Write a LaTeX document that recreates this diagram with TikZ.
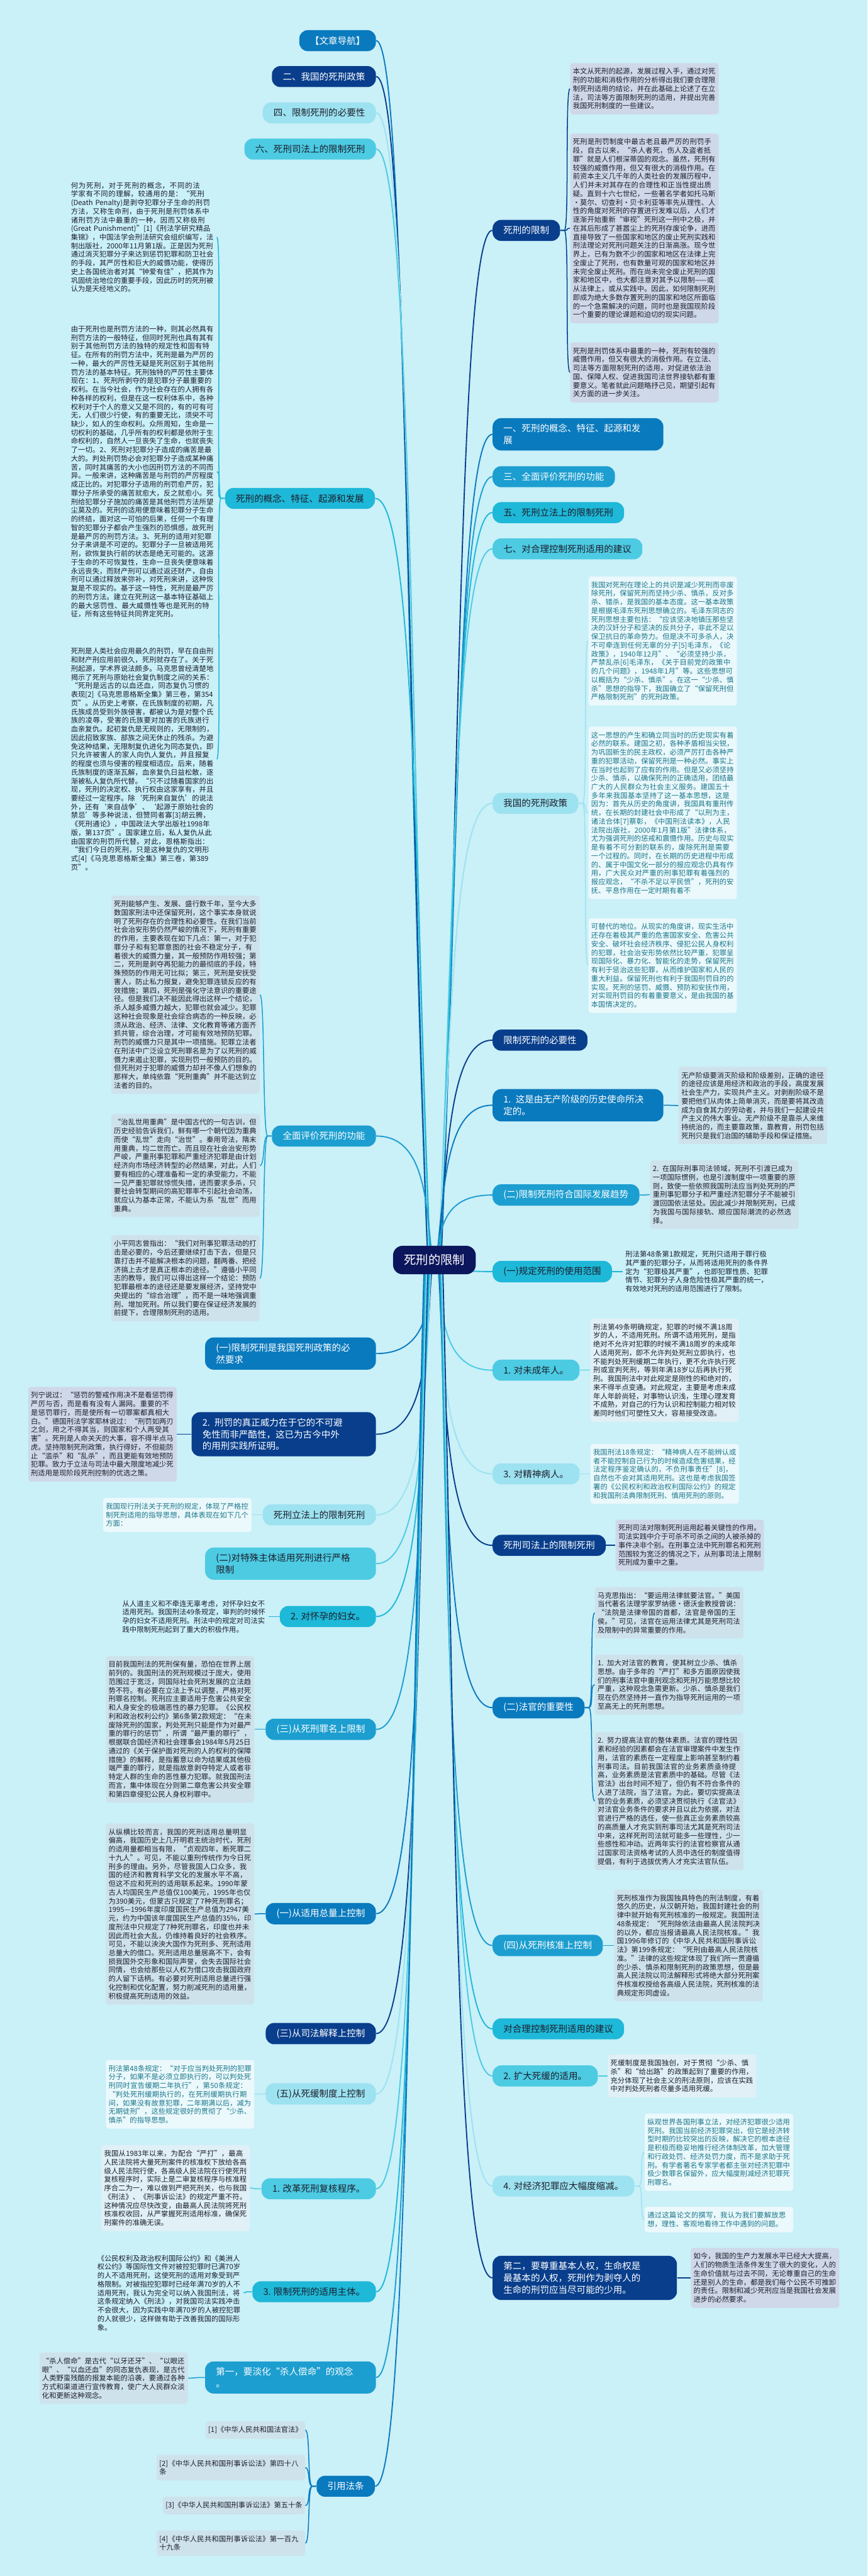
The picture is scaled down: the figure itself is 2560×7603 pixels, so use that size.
\documentclass[tikz,border=0pt]{standalone}
\usepackage{fontspec}
\setmainfont{Noto Sans CJK SC}
\XeTeXlinebreaklocale "zh"
\XeTeXlinebreakskip=0pt plus 0.5pt
\usetikzlibrary{calc}
\pgfdeclarelayer{background}
\pgfsetlayers{background,main}

\definecolor{bgc}{RGB}{202,240,248}
\definecolor{rootc}{RGB}{12,22,92}
\definecolor{darkb}{RGB}{8,62,140}
\definecolor{midb}{RGB}{10,122,190}
\definecolor{skyb}{RGB}{28,158,208}
\definecolor{cyanb}{RGB}{30,184,216}
\definecolor{lightb}{RGB}{76,203,227}
\definecolor{paleb}{RGB}{157,226,240}
\definecolor{boxgrey}{RGB}{207,216,232}
\definecolor{boxblue}{RGB}{206,226,236}
\definecolor{boxlite}{RGB}{224,240,246}
\definecolor{boxpale}{RGB}{235,249,252}
\definecolor{inkc}{RGB}{28,30,44}
\definecolor{tealc}{RGB}{26,118,138}

\newcommand\notefont{\fontsize{5.97pt}{7.26pt}\selectfont}
\newcommand\headfont{\fontsize{7.68pt}{9.96pt}\selectfont}
\newcommand\rootfont{\fontsize{10.2pt}{12.2pt}\selectfont}

\tikzset{
  head/.style={rounded corners=2.5mm, minimum height=6.2mm, inner xsep=3.2mm, inner ysep=1.75mm, font=\headfont, align=left},
  hdark/.style={head, fill=darkb, text=white},
  hmid/.style={head, fill=midb, text=white},
  hsky/.style={head, fill=skyb, text=white},
  hcyan/.style={head, fill=cyanb, text=inkc},
  hlight/.style={head, fill=lightb, text=inkc},
  hpale/.style={head, fill=paleb, text=inkc},
  twoline/.style={text width=44mm},
  threeline/.style={text width=48mm},
  note/.style={text width=42.2mm, inner xsep=0.8mm, inner ysep=1.5mm, rounded corners=0.8mm, font=\notefont, align=left},
  notegrey/.style={note, fill=boxgrey, text=inkc},
  noteblue/.style={note, fill=boxblue, text=inkc},
  notelite/.style={note, fill=boxlite, text=inkc},
  notepale/.style={note, fill=boxpale, text=tealc},
  noteplain/.style={note, text=inkc},
  citebox/.style={inner xsep=0.8mm, inner ysep=1.5mm, rounded corners=0.8mm, font=\notefont, fill=boxblue, text=inkc},
  trunk/.style={line width=1pt},
  twig/.style={line width=0.8pt},
}

\begin{document}
\begin{tikzpicture}[x=0.1mm, y=-0.1mm]
    \useasboundingbox (0,0) rectangle (2560,7603);

    % centre
    \node[rounded corners=2.8mm, fill=rootc, text=white, font=\rootfont, minimum width=24.4mm, minimum height=8.4mm] (root) at (1282,3719) {死刑的限制};

    % right side topics
    \node[hdark, anchor=west] (secR) at (1453,680) {死刑的限制};
    \node[hmid, twoline, anchor=west] (sec1) at (1453,1282) {一、死刑的概念、特征、起源和发\\展};
    \node[hsky, anchor=west] (sec3) at (1453,1407) {三、全面评价死刑的功能};
    \node[hcyan, anchor=west] (sec5) at (1453,1513) {五、死刑立法上的限制死刑};
    \node[hlight, anchor=west] (sec7) at (1453,1620) {七、对合理控制死刑适用的建议};
    \node[hpale, anchor=west] (policy) at (1453,2371) {我国的死刑政策};
    \node[hdark, anchor=west] (necess) at (1453,3070) {限制死刑的必要性};
    \node[hmid, twoline, anchor=west] (mission) at (1453,3262) {1. 这是由无产阶级的历史使命所决\\定的。};
    \node[hsky, anchor=west] (intl) at (1453,3527) {(二)限制死刑符合国际发展趋势};
    \node[hcyan, anchor=west] (scope) at (1453,3753) {(一)规定死刑的使用范围};
    \node[hlight, anchor=west] (minors) at (1453,4044) {1. 对未成年人。};
    \node[hpale, anchor=west] (insane) at (1453,4350) {3. 对精神病人。};
    \node[hdark, anchor=west] (judic) at (1453,4561) {死刑司法上的限制死刑};
    \node[hmid, anchor=west] (judges) at (1453,5040) {(二)法官的重要性};
    \node[hsky, anchor=west] (review) at (1453,5742) {(四)从死刑核准上控制};
    \node[hcyan, anchor=west] (suggest) at (1453,5988) {对合理控制死刑适用的建议};
    \node[hlight, anchor=west] (suspend) at (1453,6127) {2. 扩大死缓的适用。};
    \node[hpale, anchor=west] (econ) at (1453,6452) {4. 对经济犯罪应大幅度缩减。};
    \node[hdark, threeline, anchor=west] (rights) at (1453,6723) {第二，要尊重基本人权，生命权是\\最基本的人权，死刑作为剥夺人的\\生命的刑罚应当尽可能的少用。};

    % left side topics
    \node[hmid, anchor=east] (nav) at (1110,120) {【文章导航】};
    \node[hdark, anchor=east] (sec2) at (1110,226) {二、我国的死刑政策};
    \node[hpale, anchor=east] (sec4) at (1110,333) {四、限制死刑的必要性};
    \node[hlight, anchor=east] (sec6) at (1110,440) {六、死刑司法上的限制死刑};
    \node[hcyan, anchor=east] (concept) at (1107,1471) {死刑的概念、特征、起源和发展};
    \node[hsky, anchor=east] (evaluate) at (1110,3353) {全面评价死刑的功能};
    \node[hmid, twoline, anchor=east] (polreq) at (1110,3995) {(一)限制死刑是我国死刑政策的必\\然要求};
    \node[hdark, threeline, anchor=east] (certainty) at (1110,4233) {2. 刑罚的真正威力在于它的不可避\\免性而非严酷性，这已为古今中外\\的用刑实践所证明。};
    \node[hpale, anchor=east] (legis) at (1110,4471) {死刑立法上的限制死刑};
    \node[hlight, twoline, anchor=east] (special) at (1110,4615) {(二)对特殊主体适用死刑进行严格\\限制};
    \node[hcyan, anchor=east] (pregnant) at (1110,4771) {2. 对怀孕的妇女。};
    \node[hsky, anchor=east] (crimes) at (1110,5104) {(三)从死刑罪名上限制};
    \node[hmid, anchor=east] (total) at (1110,5648) {(一)从适用总量上控制};
    \node[hdark, anchor=east] (interp) at (1110,6002) {(三)从司法解释上控制};
    \node[hpale, anchor=east] (suspsys) at (1110,6180) {(五)从死缓制度上控制};
    \node[hlight, anchor=east] (reform) at (1110,6460) {1. 改革死刑复核程序。};
    \node[hcyan, anchor=east] (elderly) at (1110,6764) {3. 限制死刑的适用主体。};
    \node[hsky, twoline, anchor=east] (notion) at (1110,7017) {第一，要淡化“杀人偿命”的观念\\。};
    \node[hmid, anchor=east] (citelaw) at (1107,7338) {引用法条};

    % notes on the right
    \node[notegrey, anchor=west] (introA) at (1682,262) {本文从死刑的起源，发展过程入手，通过对死刑的功能和消极作用的分析得出我们要合理限制死刑适用的结论，并在此基础上论述了在立法，司法等方面限制死刑的适用，并提出完善我国死刑制度的一些建议。};
    \node[notegrey, anchor=west] (introB) at (1682,674) {死刑是刑罚制度中最古老且最严厉的刑罚手段，自古以来，“杀人者死，伤人及盗者抵罪”就是人们根深蒂固的观念。虽然，死刑有较强的威慑作用，但又有很大的消极作用。在前资本主义几千年的人类社会的发展历程中，人们并未对其存在的合理性和正当性提出质疑。直到十六七世纪，一些著名学者如托马斯·莫尔、切查利·贝卡利亚等率先从理性、人性的角度对死刑的存置进行发难以后，人们才逐渐开始重新“审视”死刑这一刑中之极，并在其后形成了甚嚣尘上的死刑存废论争，进而直接导致了一些国家和地区的废止死刑实践和刑法理论对死刑问题关注的日渐高涨。现今世界上，已有为数不少的国家和地区在法律上完全废止了死刑，也有数量可观的国家和地区并未完全废止死刑。而在尚未完全废止死刑的国家和地区中，也大都注意对其予以限制——或从法律上，或从实践中。因此，如何限制死刑即成为绝大多数存置死刑的国家和地区所面临的一个急需解决的问题，同时也是我国现阶段一个重要的理论课题和迫切的现实问题。};
    \node[notegrey, anchor=west] (introC) at (1682,1099) {死刑是刑罚体系中最重的一种，死刑有较强的威慑作用，但又有很大的消极作用。在立法、司法等方面限制死刑的适用，对促进依法治国、保障人权、促进我国司法世界接轨都有重要意义。笔者就此问题略抒己见，期望引起有关方面的进一步关注。};
    \node[notepale, anchor=west] (polA) at (1736,1892) {我国对死刑在理论上的共识是减少死刑而非废除死刑，保留死刑而坚持少杀、慎杀，反对多杀、错杀，是我国的基本态度。这一基本政策是根据毛泽东死刑思想确立的。毛泽东同志的死刑思想主要包括：“应该坚决地镇压那些坚决的汉奸分子和坚决的反共分子，非此不足以保卫抗日的革命势力。但是决不可多杀人，决不可牵连到任何无辜的分子[5]毛泽东，《论政策》，1940年12月”、“必须坚持少杀，严禁乱杀[6]毛泽东，《关于目前党的政策中的几个问题》，1948年1月”等。这些思想可以概括为“少杀、慎杀”。在这一“少杀、慎杀”思想的指导下，我国确立了“保留死刑但严格限制死刑”的死刑政策。};
    \node[notepale, anchor=west] (polB) at (1736,2399) {这一思想的产生和确立同当时的历史现实有着必然的联系。建国之初，各种矛盾相当尖锐，为巩固新生的民主政权，必须严厉打击各种严重的犯罪活动，保留死刑是一种必然。事实上在当时也起到了应有的作用。但是又必须坚持少杀、慎杀，以确保死刑的正确适用，团结最广大的人民群众为社会主义服务。建国五十多年来我国基本坚持了这一基本思想，这是因为：首先从历史的角度讲，我国具有重刑传统，在长期的封建社会中形成了“以刑为主，诸法合体[7]蔡彰，《中国刑法读本》，人民法院出版社，2000年1月第1版”法律体系，尤为强调死刑的惩戒和震慑作用。历史与现实是有着不可分割的联系的，废除死刑是需要一个过程的。同时，在长期的历史进程中形成的、属于中国文化一部分的报应观念仍具有作用，广大民众对严重的刑事犯罪有着强烈的报应观念，“不杀不足以平民愤”，死刑的安抚、平息作用在一定时期有着不};
    \node[notepale, anchor=west] (polC) at (1736,2850) {可替代的地位。从现实的角度讲，现实生活中还存在着极其严重的危害国家安全、危害公共安全、破坏社会经济秩序、侵犯公民人身权利的犯罪，社会治安形势依然比较严重，犯罪呈现国际化、暴力化、智能化的走势，保留死刑有利于惩治这些犯罪，从而维护国家和人民的重大利益。保留死刑也有利于我国刑罚目的的实现。死刑的惩罚、威慑、预防和安抚作用，对实现刑罚目的有着重要意义，是由我国的基本国情决定的。};
    \node[noteblue, anchor=west] (missionT) at (2002,3263) {无产阶级要消灭阶级和阶级差别，正确的途径的途径应该是用经济和政治的手段，高度发展社会生产力，实现共产主义。对剥削阶级不是要把他们从肉体上简单消灭，而是要将其改造成为自食其力的劳动者，并与我们一起建设共产主义的伟大事业。无产阶级不是靠杀人来维持统治的，而主要靠政策，靠教育，刑罚包括死刑只是我们治国的辅助手段和保证措施。};
    \node[noteblue, anchor=west] (intlT) at (1918,3526) {2. 在国际刑事司法领域，死刑不引渡已成为一项国际惯例，也是引渡制度中一项重要的原则，致使一些依照我国刑法应当判处死刑的严重刑事犯罪分子和严重经济犯罪分子不能被引渡回国依法惩处。因此减少并限制死刑，已成为我国与国际接轨、顺应国际潮流的必然选择。};
    \node[noteplain, anchor=west] (scopeT) at (1837,3753) {刑法第48条第1款规定，死刑只适用于罪行极其严重的犯罪分子，从而将适用死刑的条件界定为“犯罪极其严重”，也即犯罪性质、犯罪情节、犯罪分子人身危险性极其严重的统一，有效地对死刑的适用范围进行了限制。};
    \node[notelite, anchor=west] (minorsT) at (1742,4044) {刑法第49条明确规定，犯罪的时候不满18周岁的人，不适用死刑。所谓不适用死刑，是指绝对不允许对犯罪的时候不满18周岁的未成年人适用死刑，即不允许判处死刑立即执行，也不能判处死刑缓期二年执行，更不允许执行死刑或宣判死刑，等到年满18岁以后再执行死刑。我国刑法中对此规定是刚性的和绝对的，来不得半点变通。对此规定，主要是考虑未成年人年龄尚轻，对事物认识浅，生理心理发育不成熟，对自己的行为认识和控制能力相对较差同时他们可塑性又大，容易接受改造。};
    \node[notepale, anchor=west] (insaneT) at (1742,4350) {我国刑法18条规定：“精神病人在不能辨认或者不能控制自己行为的时候造成危害结果，经法定程序鉴定确认的，不负刑事责任”[8]，自然也不会对其适用死刑。这也是考虑我国签署的《公民权利和政治权利国际公约》的规定和我国刑法典限制死刑、慎用死刑的原则。};
    \node[notegrey, anchor=west] (judicT) at (1816,4561) {死刑司法对限制死刑运用起着关键性的作用。司法实践中介于可杀不可杀之间的人被杀掉的事件决非个别。在刑事立法中死刑罪名和死刑范围较为宽泛的情况之下，从刑事司法上限制死刑成为重中之重。};
    \node[noteblue, anchor=west] (judgesA) at (1755,4760) {马克思指出：“要运用法律就要法官。”美国当代著名法理学家罗纳德·德沃金教授曾说：“法院是法律帝国的首都，法官是帝国的王侯。”可见，法官在运用法律尤其是死刑司法及限制中的异常重要的作用。};
    \node[noteblue, anchor=west] (judgesB) at (1755,4972) {1. 加大对法官的教育，使其树立少杀、慎杀思想。由于多年的“严打”和多方面原因使我们的刑事法官中重刑观念和死刑万能思想比较严重，这种观念急需更新。少杀、慎杀是我们现在仍然坚持并一直作为指导死刑运用的一项至高无上的死刑思想。};
    \node[noteblue, anchor=west] (judgesC) at (1755,5316) {2. 努力提高法官的整体素质。法官的理性因素和经验的因素都会在法官审理案件中发生作用，法官的素质在一定程度上影响甚至制约着刑事司法。目前我国法官的业务素质亟待提高，业务素质是法官素质中的基础。尽管《法官法》出台时间不短了，但仍有不符合条件的人进了法院，当了法官。为此，要切实提高法官的业务素质，必须坚决贯彻执行《法官法》对法官业务条件的要求并且以此为依据，对法官进行严格的选任，使一些真正业务素质较高的高质量人才充实到刑事司法尤其是死刑司法中来，这样死刑司法就可能多一些理性，少一些感性和冲动。近两年实行的法官检察官从通过国家司法资格考试的人员中选任的制度值得提倡，有利于选拔优秀人才充实法官队伍。};
    \node[noteblue, anchor=west] (reviewT) at (1812,5742) {死刑核准作为我国独具特色的刑法制度，有着悠久的历史，从汉朝开始，我国封建社会的刑律中就开始有死刑核准的一般规定。我国刑法48条规定：“死刑除依法由最高人民法院判决的以外，都应当报请最高人民法院核准。”我国1996年修订的《中华人民共和国刑事诉讼法》第199条规定：“死刑由最高人民法院核准。”法律的这些规定体现了我们所一贯遵循的少杀、慎杀和限制死刑的政策思想，但是最高人民法院以司法解释形式将绝大部分死刑案件核准权授给各高级人民法院，死刑核准的法典规定形同虚设。};
    \node[notelite, anchor=west] (suspendT) at (1793,6127) {死缓制度是我国独创，对于贯彻“少杀、慎杀”和“给出路”的政策起到了重要的作用，充分体现了社会主义的刑法原则，应该在实践中对判处死刑者尽量多适用死缓。};
    \node[notepale, anchor=west] (econA) at (1902,6352) {纵观世界各国刑事立法，对经济犯罪很少适用死刑。我国当前经济犯罪突出，但它是经济转型时期的比较突出的反映，解决它的根本途径是积极而稳妥地推行经济体制改革，加大管理和行政处罚、经济处罚力度，而不是求助于死刑。有学者著名专家学者都主张对经济犯罪中极少数罪名保留外，应大幅度削减经济犯罪死刑罪名。};
    \node[notepale, anchor=west] (econB) at (1902,6551) {通过这篇论文的撰写，我认为我们要解放思想，理性、客观地看待工作中遇到的问题。};
    \node[notegrey, anchor=west] (rightsT) at (2038,6723) {如今，我国的生产力发展水平已经大大提高，人们的物质生活条件发生了很大的变化，人的生命价值就与过去不同，无论尊重自己的生命还是别人的生命，都是我们每个公民不可推卸的责任。限制和减少死刑应当是我国社会发展进步的必然要求。};

    % notes on the left
    \node[noteplain, anchor=east] (conceptA) at (640,700) {何为死刑，对于死刑的概念，不同的法学家有不同的理解，较通用的是：“死刑(Death Penalty)是剥夺犯罪分子生命的刑罚方法，又称生命刑，由于死刑是刑罚体系中诸刑罚方法中最重的一种，因而又称极刑(Great Punishment)”[1]《刑法学研究精品集锦》，中国法学会刑法研究会组织编写，法制出版社，2000年11月第1版。正是因为死刑通过消灭犯罪分子来达到惩罚犯罪和防卫社会的手段，其严厉性和巨大的威慑功能，使得历史上各国统治者对其“钟爱有佳”，把其作为巩固统治地位的重要手段，因此历时的死刑被认为是天经地义的。};
    \node[noteplain, anchor=east] (conceptB) at (640,1392) {由于死刑也是刑罚方法的一种，则其必然具有刑罚方法的一般特征，但同时死刑也具有其有别于其他刑罚方法的独特的规定性和固有特征。在所有的刑罚方法中，死刑是最为严厉的一种，最大的严厉性无疑是死刑区别于其他刑罚方法的基本特征。死刑独特的严厉性主要体现在：1、死刑所剥夺的是犯罪分子最重要的权利。在当今社会，作为社会存在的人拥有各种各样的权利，但是在这一权利体系中，各种权利对于个人的意义又是不同的，有的可有可无，人们很少行使，有的重要无比，须臾不可缺少，如人的生命权利。众所周知，生命是一切权利的基础，几乎所有的权利都是依附于生命权利的，自然人一旦丧失了生命，也就丧失了一切。2、死刑对犯罪分子造成的痛苦是最大的。判处刑罚势必会对犯罪分子造成某种痛苦，同时其痛苦的大小也因刑罚方法的不同而异。一般来讲，这种痛苦是与刑罚的严厉程度成正比的。对犯罪分子适用的刑罚愈严厉，犯罪分子所承受的痛苦就愈大，反之就愈小。死刑给犯罪分子施加的痛苦是其他刑罚方法所望尘莫及的。死刑的适用便意味着犯罪分子生命的终结，面对这一可怕的后果，任何一个有理智的犯罪分子都会产生强烈的恐惧感，故死刑是最严厉的刑罚方法。3、死刑的适用对犯罪分子来讲是不可逆的。犯罪分子一旦被适用死刑，欲恢复执行前的状态是绝无可能的。这源于生命的不可恢复性，生命一旦丧失便意味着永远丧失，而财产刑可以通过返还财产，自由刑可以通过释放来弥补，对死刑来讲，这种恢复是不现实的。基于这一特性，死刑是最严厉的刑罚方法。建立在死刑这一基本特征基础上的最大惩罚性、最大威慑性等也是死刑的特征，所有这些特征共同界定死刑。};
    \node[noteplain, anchor=east] (conceptC) at (640,2241) {死刑是人类社会应用最久的刑罚，早在自由刑和财产刑应用前很久，死刑就存在了。关于死刑起源，学术界说法颇多。马克思曾经清楚地揭示了死刑与原始社会复仇制度之间的关系：“死刑是远古的以血还血，同态复仇习惯的表现[2]《马克思恩格斯全集》第三卷，第354页”。从历史上考察，在氏族制度的初期，凡氏族成员受到外族侵害，都被认为是对整个氏族的凌辱，受害的氏族要对加害的氏族进行血亲复仇。起初复仇是无规则的，无限制的，因此招致家族、部族之间无休止的残杀。为避免这种结果，无限制复仇进化为同态复仇，即只允许被害人的家人向仇人复仇，并且报复的程度也须与侵害的程度相适应。后来，随着氏族制度的逐渐瓦解，血亲复仇日益松散，逐渐被私人复仇所代替。“只不过随着国家的出现，死刑的决定权、执行权由这家享有，并且要经过一定程序。除‘死刑来自复仇’的说法外，还有‘来自战争’、‘起源于原始社会的禁忌’等多种说法，但赞同者寡[3]胡云腾，《死刑通论》，中国政法大学出版社1998年版，第137页”。国家建立后，私人复仇从此由国家的刑罚所代替。对此，恩格斯指出：“我们今日的死刑，只是这种复仇的文明形式[4]《马克思恩格斯全集》第三卷，第389页”。};
    \node[noteblue, anchor=east] (evalA) at (767,2936) {死刑能够产生、发展、盛行数千年，至今大多数国家刑法中还保留死刑，这个事实本身就说明了死刑存在的合理性和必要性。在我们当前社会治安形势仍然严峻的情况下，死刑有重要的作用，主要表现在如下几点：第一，对于犯罪分子和有犯罪意图的社会不稳定分子，有着很大的威慑力量，其一般预防作用较强；第二，死刑是剥夺再犯能力的最彻底的手段，特殊预防的作用无可比拟；第三，死刑是安抚受害人，防止私力报复，避免犯罪连锁反应的有效措施；第四，死刑是强化守法意识的重要途径。但是我们决不能因此得出这样一个结论，杀人越多威慑力越大，犯罪也就会减少。犯罪这种社会现象是社会综合病态的一种反映，必须从政治、经济、法律、文化教育等诸方面齐抓共管，综合治理，才可能有效地预防犯罪。刑罚的威慑力只是其中一项措施。犯罪立法者在刑法中广泛设立死刑罪名是为了以死刑的威慑力来遏止犯罪，实现刑罚一般预防的目的。但死刑对于犯罪的威慑力却并不像人们想象的那样大，单纯依靠“死刑重典”并不能达到立法者的目的。};
    \node[noteblue, anchor=east] (evalB) at (767,3440) {“治乱世用重典”是中国古代的一句古训，但历史经验告诉我们，鲜有哪一个朝代因为重典而使“乱世”走向“治世”。秦用苛法，隋末用重典，均二世而亡。而且现在社会治安形势严峻，严重刑事犯罪和严重经济犯罪是由计划经济向市场经济转型的必然结果，对此，人们要有相应的心理准备和一定的承受能力，不能一见严重犯罪就惊慌失措，进而要求多杀，只要社会转型期间的高犯罪率不引起社会动荡，就应认为基本正常，不能认为系“乱世”而用重典。};
    \node[noteblue, anchor=east] (evalC) at (767,3773) {小平同志曾指出：“我们对刑事犯罪活动的打击是必要的，今后还要继续打击下去，但是只靠打击并不能解决根本的问题，翻两番、把经济搞上去才是真正根本的途径。”遵循小平同志的教导，我们可以得出这样一个结论：预防犯罪最根本的途径还是要发展经济，坚持党中央提出的“综合治理”，而不是一味地强调重刑、增加死刑。所以我们要在保证经济发展的前提下，合理限制死刑的适用。};
    \node[notegrey, anchor=east] (certT) at (522,4233) {列宁说过：“惩罚的警戒作用决不是看惩罚得严厉与否，而是看有没有人漏网。重要的不是惩罚罪行，而是使所有一切罪案都真相大白。”德国刑法学家耶林说过：“刑罚如两刃之剑，用之不得其当，则国家和个人两受其害”。死刑是人命关天的大事，容不得半点马虎。坚持限制死刑政策，执行得好，不但能防止“滥杀”和“乱杀”，而且更能有效地预防犯罪。致力于立法与司法中最大限度地减少死刑适用是现阶段死刑控制的优选之策。};
    \node[notepale, anchor=east] (legisT) at (743,4471) {我国现行刑法关于死刑的规定，体现了严格控制死刑适用的指导思想，具体表现在如下几个方面：};
    \node[noteplain, anchor=east] (pregT) at (792,4771) {从人道主义和不牵连无辜考虑，对怀孕妇女不适用死刑。我国刑法49条规定，审判的时候怀孕的妇女不适用死刑。刑法中的规定对司法实践中限制死刑起到了重大的积极作用。};
    \node[noteblue, anchor=east] (crimesT) at (751,5104) {目前我国刑法的死刑保有量，恐怕在世界上居前列的。我国刑法的死刑规模过于庞大，使用范围过于宽泛，同国际社会死刑发展的立法趋势不符。有必要在立法上予以调整，严格对死刑罪名控制。死刑应主要适用于危害公共安全和人身安全的极端恶性的暴力犯罪。《公民权利和政治权利公约》第6条第2款规定：“在未废除死刑的国家，判处死刑只能是作为对最严重的罪行的惩罚”，所谓“最严重的罪行”，根据联合国经济和社会理事会1984年5月25日通过的《关于保护面对死刑的人的权利的保障措施》的解释，是指蓄意以命为结果或其他极端严重的罪行，就是指故意剥夺特定人或者非特定人群的生命的恶性暴力犯罪。就我国刑法而言，集中体现在分则第二章危害公共安全罪和第四章侵犯公民人身权利罪中。};
    \node[noteblue, anchor=east] (totalT) at (751,5649) {从纵横比较而言，我国的死刑适用总量明显偏高，我国历史上几开明君主统治时代，死刑的适用量都相当有限，“贞观四年，断死罪二十九人”。可见，不能以重刑传统作为今日死刑多的理由。另外，尽管我国人口众多，我国的经济和教育科学文化的发展水平不高，但这不应和死刑的适用联系起来。1990年蒙古人均国民生产总值仅100美元，1995年也仅为390美元，但蒙古只规定了7种死刑罪名；1995—1996年度印度国民生产总值为2947美元，约为中国该年度国民生产总值的35\%，印度刑法中只规定了7种死刑罪名，印度也并未因此而社会大乱，仍维持着良好的社会秩序。可见，不能以泱泱大国作为死刑多、死刑适用总量大的借口。死刑适用总量居高不下，会有损我国外交形象和国际声誉，会失去国际社会同情，也会给那些以人权为借口攻击我国政府的人留下话柄。有必要对死刑适用总量进行强化控制和优化配置，努力削减死刑的适用量，积极提高死刑适用的效益。};
    \node[notepale, anchor=east] (suspsysT) at (751,6181) {刑法第48条规定：“对于应当判处死刑的犯罪分子，如果不是必须立即执行的，可以判处死刑同时宣告缓期二年执行”，第50条规定：“判处死刑缓期执行的，在死刑缓期执行期间，如果没有故意犯罪，二年期满以后，减为无期徒刑”，这些规定很好的贯彻了“少杀、慎杀”的指导思想。};
    \node[notelite, anchor=east] (reformT) at (738,6458) {我国从1983年以来，为配合“严打”，最高人民法院将大量死刑案件的核准权下放给各高级人民法院行使，各高级人民法院在行使死刑复核程序时，实际上是二审复核程序与核准程序合二为一，难以做到严把死刑关，也与我国《刑法》、《刑事诉讼法》的规定严重不符。这种情况应尽快改变，由最高人民法院将死刑核准权收回，从严掌握死刑适用标准，确保死刑案件的准确无误。};
    \node[noteplain, anchor=east] (elderT) at (718,6767) {《公民权利及政治权利国际公约》和《美洲人权公约》等国际性文件对被控犯罪时已满70岁的人不适用死刑，这使死刑的适用对象受到严格限制。对被指控犯罪时已经年满70岁的人不适用死刑，我认为完全可以纳入我国刑法，将这条规定纳入《刑法》，对我国司法实践冲击不会很大，因为实践中年满70岁的人被控犯罪的人就很少，这样做有助于改善我国的国际形象。};
    \node[noteblue, anchor=east] (notionT) at (555,7019) {“杀人偿命”是古代“以牙还牙”、“以眼还眼”、“以血还血”的同态复仇表现，是古代人类野蛮残酷的报复本能的沿袭，要通过各种方式和渠道进行宣传教育，使广大人民群众淡化和更新这种观念。};
    \node[citebox, anchor=east] (citeA) at (901,7172) {[1]《中华人民共和国法官法》};
    \node[noteblue, anchor=east] (citeB) at (901,7283) {[2]《中华人民共和国刑事诉讼法》第四十八条};
    \node[citebox, anchor=east] (citeC) at (901,7395) {[3]《中华人民共和国刑事诉讼法》第五十条};
    \node[noteblue, anchor=east] (citeD) at (901,7506) {[4]《中华人民共和国刑事诉讼法》第一百九十九条};

    \begin{pgfonlayer}{background}
    \fill[bgc] (0,0) rectangle (2560,7603);

    % trunk: centre to every topic
    \foreach \n/\d/\sx/\col/\a in {
        secR/2.0/7.5/darkb/west, sec1/1.8/7.0/midb/west, sec3/1.6/6.6/skyb/west,
        sec5/1.4/6.2/cyanb/west, sec7/1.2/5.8/lightb/west, policy/1.0/5.0/paleb/west,
        necess/0.8/4.0/darkb/west, mission/0.6/3.0/midb/west, intl/0.4/2.0/skyb/west,
        scope/0.6/1.5/cyanb/west, minors/0.8/2.0/lightb/west, insane/1.0/2.5/paleb/west,
        judic/1.2/3.0/darkb/west, judges/1.4/3.5/midb/west, review/1.6/4.0/skyb/west,
        suggest/1.8/4.5/cyanb/west, suspend/2.0/5.0/lightb/west, econ/2.2/5.5/paleb/west,
        rights/2.4/6.0/darkb/west,
        nav/-2.0/-8.5/midb/east, sec2/-1.8/-8.0/darkb/east, sec4/-1.6/-7.5/paleb/east,
        sec6/-1.4/-7.0/lightb/east, concept/-1.2/-5.5/cyanb/east, evaluate/-0.6/-2.5/skyb/east,
        polreq/-0.6/-1.5/midb/east, certainty/-0.8/-2.0/darkb/east, legis/-1.0/-2.5/paleb/east,
        special/-1.2/-3.0/lightb/east, pregnant/-1.4/-3.5/cyanb/east, crimes/-1.6/-4.0/skyb/east,
        total/-1.8/-4.5/midb/east, interp/-2.0/-5.0/darkb/east, suspsys/-2.2/-5.5/paleb/east,
        reform/-2.4/-6.0/lightb/east, elderly/-2.6/-6.5/cyanb/east, notion/-2.8/-7.0/skyb/east,
        citelaw/-3.0/-7.5/midb/east}{
        \coordinate (v) at ([xshift=\sx mm]root.center);
        \draw[trunk, \col] ([xshift=\d mm]root.center) .. controls ($(v)!0.45!(v |- \n.\a)$) and (v |- \n.\a) .. (\n.\a);
    }

    % twigs to the notes, right side
    \foreach \p/\k/\col in {secR/introA/darkb, secR/introB/darkb, secR/introC/darkb,
        policy/polA/paleb, policy/polB/paleb, policy/polC/paleb,
        mission/missionT/midb, intl/intlT/skyb, scope/scopeT/cyanb,
        minors/minorsT/lightb, insane/insaneT/paleb, judic/judicT/darkb,
        judges/judgesA/midb, judges/judgesB/midb, judges/judgesC/midb,
        review/reviewT/skyb, suspend/suspendT/lightb,
        econ/econA/paleb, econ/econB/paleb, rights/rightsT/darkb}
        \draw[twig, \col] (\p.east) -- ++(1.2mm,0) .. controls +(1.5mm,0) and +(-1.5mm,0) .. (\k.west);

    % twigs to the notes, left side
    \foreach \p/\k/\col in {concept/conceptA/cyanb, concept/conceptB/cyanb, concept/conceptC/cyanb,
        evaluate/evalA/skyb, evaluate/evalB/skyb, evaluate/evalC/skyb,
        certainty/certT/darkb, legis/legisT/paleb, pregnant/pregT/cyanb,
        crimes/crimesT/skyb, total/totalT/midb, suspsys/suspsysT/paleb,
        reform/reformT/lightb, elderly/elderT/cyanb, notion/notionT/skyb,
        citelaw/citeA/midb, citelaw/citeB/midb, citelaw/citeC/midb, citelaw/citeD/midb}
        \draw[twig, \col] (\p.west) -- ++(-1.2mm,0) .. controls +(-1.5mm,0) and +(1.5mm,0) .. (\k.east);
    \end{pgfonlayer}
\end{tikzpicture}
\end{document}
